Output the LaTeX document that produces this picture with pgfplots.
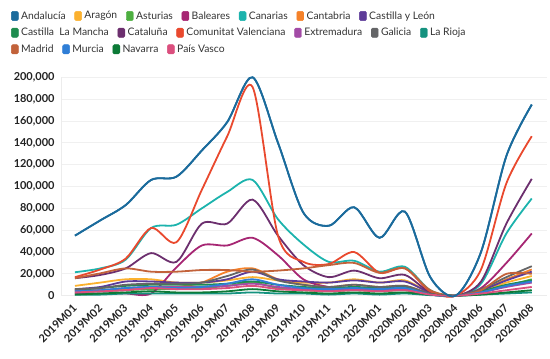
\documentclass[border=0pt]{standalone}
\usepackage{pgfplots}
\pgfplotsset{compat=1.18}
\usepackage{pgfplotstable}
\usepackage{fontspec}
\setmainfont{Lato}
\definecolor{cAnd}{HTML}{1B6B9C}
\definecolor{cAra}{HTML}{FBB12F}
\definecolor{cAst}{HTML}{4DAF40}
\definecolor{cBal}{HTML}{A62673}
\definecolor{cCan}{HTML}{1CB3AD}
\definecolor{cCtb}{HTML}{F5822A}
\definecolor{cCyL}{HTML}{5D3B98}
\definecolor{cCLM}{HTML}{1E8C4F}
\definecolor{cCat}{HTML}{6C2F6E}
\definecolor{cCV}{HTML}{E9492E}
\definecolor{cExt}{HTML}{A34BA6}
\definecolor{cGal}{HTML}{646567}
\definecolor{cRio}{HTML}{15927F}
\definecolor{cMad}{HTML}{C2623A}
\definecolor{cMur}{HTML}{2F7ED6}
\definecolor{cNav}{HTML}{0D7A37}
\definecolor{cPV}{HTML}{DB4F7E}
\definecolor{txt}{HTML}{333333}
\definecolor{tick}{HTML}{222222}
\pgfplotstableread{
x And Ara Ast Bal Can Ctb CyL CLM Cat CV Ext Gal Rio Mad Mur Nav PV
0 55000 9000 3000 2000 21500 5000 6000 5000 16000 17000 4000 6000 1000 16000 4000 1000 3000
1 69000 12000 4000 2000 25000 5000 8000 7000 19000 24000 5000 7000 1000 20500 5000 2000 4000
2 83000 15000 5000 2000 33000 6000 13000 9000 25000 34000 7000 10000 2000 25000 7000 3000 5000
3 106000 15000 6000 2000 62000 8000 13000 10000 39000 62000 8000 11000 2000 22000 8000 4000 7000
4 109000 12000 6000 26000 65000 8000 12000 10000 31000 49000 8000 11000 2000 22000 7000 3000 6000
5 133000 12000 7000 46000 80000 12000 12000 10000 66000 97000 8000 12000 2000 23500 8000 3000 6000
6 159000 14000 9000 46000 95000 22000 15000 11000 66000 146000 9000 18000 2000 23500 11000 4000 7000
7 200000 17000 12000 53000 106000 25000 22000 13000 88000 191000 11000 24000 3000 22000 15000 6000 9000
8 140000 14000 7000 37000 70000 15000 15000 10000 55000 55000 8000 14000 2000 23000 10000 4000 6000
9 76000 12000 5000 15000 47000 10000 13000 8000 28000 31000 6000 10000 2000 25000 7000 3000 5000
10 64000 12000 4000 8000 31000 8000 12000 7000 17000 29000 5000 8000 1000 28000 6000 2000 4000
11 81000 15000 5000 7000 32000 10000 14000 8000 23000 40000 6000 10000 2000 30000 7000 3000 5000
12 53000 12000 4000 5000 22000 8000 12000 7000 16000 21000 5000 8000 1000 21000 6000 2000 4000
13 77000 14000 5000 6000 26500 9000 13000 8000 19000 25000 6000 9000 2000 25000 7000 3000 5000
14 17000 3000 1000 1000 5000 2000 3000 2000 3000 4000 1000 2000 500 5000 1000 1000 1000
15 0 0 0 0 0 0 0 0 0 0 0 0 0 0 0 0 0
16 40000 4000 3000 7000 11000 5000 5000 4000 13000 24000 3000 6000 1000 5000 3000 1000 2000
17 128000 12000 9000 30000 57000 15000 14000 10000 66000 103000 8000 17000 2000 20000 9000 3000 5000
18 175000 18000 15000 57000 89000 24000 22000 14000 107000 146000 12000 27000 3000 20000 13000 5000 8000
}\data
\pgfplotsset{
  legrow/.style={hide axis, scale only axis, width=486bp, height=218.4bp,
    at={(61bp,63.3bp)}, anchor=south west,
    xmin=0, xmax=1, ymin=0, ymax=1,
    legend columns=-1,
    legend style={draw=none, fill=none, anchor=west, inner sep=0pt,
      font=\fontsize{10.4}{12}\selectfont, text=txt,
      nodes={inner xsep=2.6bp, inner ysep=0pt},
      /tikz/every even column/.append style={column sep=6.2bp}},
    legend image code/.code={\fill[##1, rounded corners=1.3pt] (0bp,-4.6bp) rectangle (7bp,4.6bp);}},
  ser/.style={smooth, line width=1.8bp, color=#1, mark=none}
}
\begin{document}
\begin{tikzpicture}
\useasboundingbox (0,0) rectangle (550bp,359bp);
\begin{axis}[scale only axis, width=486bp, height=218.4bp,
  at={(61bp,63.3bp)}, anchor=south west,
  xmin=-0.55, xmax=18.6, ymin=0, ymax=200000, clip=false,
  axis lines*=left, axis line style={draw=gray!15, -},
  ymajorgrids, major grid style={draw=gray!12, line width=0.8bp},
  major tick length=0pt,
  xtick={0,...,18},
  xticklabels={2019M01,2019M02,2019M03,2019M04,2019M05,2019M06,2019M07,2019M08,2019M09,2019M10,2019M11,2019M12,2020M01,2020M02,2020M03,2020M04,2020M06,2020M07,2020M08},
  xticklabel shift=6bp,
  xticklabel style={xshift=-3bp, rotate=45, anchor=north east, inner sep=1bp, font=\bfseries\fontsize{11}{12}\selectfont, text=tick},
  ytick={0,20000,...,200000},
  scaled y ticks=false,
  yticklabel style={font=\bfseries\fontsize{11}{12}\selectfont, text=tick, xshift=-3bp},
  /pgf/number format/fixed,
  /pgf/number format/1000 sep={,},
  /pgf/number format/assume math mode=true,
]
\addplot[ser=cAnd] table[x=x,y=And]{\data};
\addplot[ser=cAra] table[x=x,y=Ara]{\data};
\addplot[ser=cAst] table[x=x,y=Ast]{\data};
\addplot[ser=cBal] table[x=x,y=Bal]{\data};
\addplot[ser=cCan] table[x=x,y=Can]{\data};
\addplot[ser=cCtb] table[x=x,y=Ctb]{\data};
\addplot[ser=cCyL] table[x=x,y=CyL]{\data};
\addplot[ser=cCLM] table[x=x,y=CLM]{\data};
\addplot[ser=cCat] table[x=x,y=Cat]{\data};
\addplot[ser=cCV] table[x=x,y=CV]{\data};
\addplot[ser=cExt] table[x=x,y=Ext]{\data};
\addplot[ser=cGal] table[x=x,y=Gal]{\data};
\addplot[ser=cRio] table[x=x,y=Rio]{\data};
\addplot[ser=cMad] table[x=x,y=Mad]{\data};
\addplot[ser=cMur] table[x=x,y=Mur]{\data};
\addplot[ser=cNav] table[x=x,y=Nav]{\data};
\addplot[ser=cPV] table[x=x,y=PV]{\data};
\addplot[ser=cAnd] table[x=x,y=And]{\data};
\end{axis}
\begin{axis}[legrow, legend style={at={(-0.103,1.2807)}}]
\addlegendimage{cAnd}\addlegendentry{Andalucía}
\addlegendimage{cAra}\addlegendentry{Aragón}
\addlegendimage{cAst}\addlegendentry{Asturias}
\addlegendimage{cBal}\addlegendentry{Baleares}
\addlegendimage{cCan}\addlegendentry{Canarias}
\addlegendimage{cCtb}\addlegendentry{Cantabria}
\addlegendimage{cCyL}\addlegendentry{Castilla y León}
\end{axis}
\begin{axis}[legrow, legend style={at={(-0.103,1.204)}}]
\addlegendimage{cCLM}\addlegendentry{Castilla\ \ La Mancha}
\addlegendimage{cCat}\addlegendentry{Cataluña}
\addlegendimage{cCV}\addlegendentry{Comunitat Valenciana}
\addlegendimage{cExt}\addlegendentry{Extremadura}
\addlegendimage{cGal}\addlegendentry{Galicia}
\addlegendimage{cRio}\addlegendentry{La Rioja}
\end{axis}
\begin{axis}[legrow, legend style={at={(-0.103,1.1282)}}]
\addlegendimage{cMad}\addlegendentry{Madrid}
\addlegendimage{cMur}\addlegendentry{Murcia}
\addlegendimage{cNav}\addlegendentry{Navarra}
\addlegendimage{cPV}\addlegendentry{País Vasco}
\end{axis}
\end{tikzpicture}
\end{document}
